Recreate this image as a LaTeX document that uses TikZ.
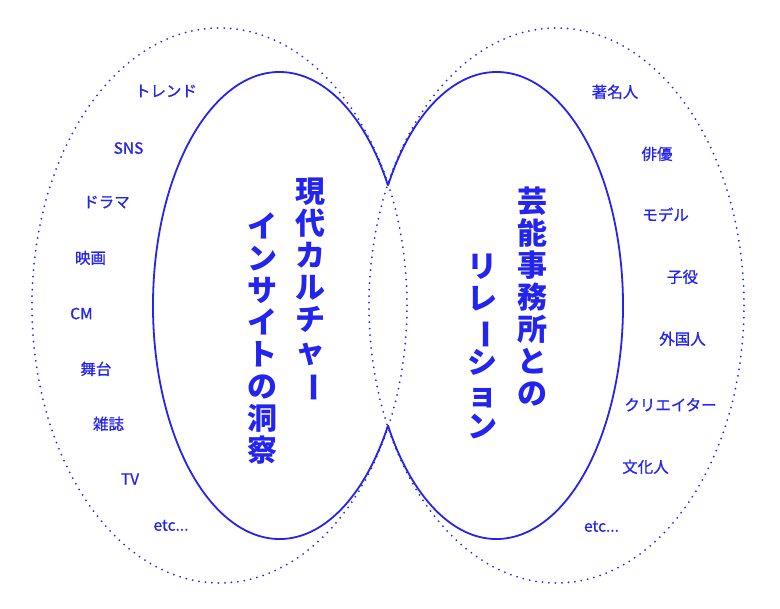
\documentclass[tikz,border=0pt]{standalone}
\usepackage{fontspec}
\usepackage{graphicx}
\usetikzlibrary{calc}
\newfontfamily\jpfont{Noto Sans CJK JP}
\newfontfamily\jptag{Noto Sans CJK JP}[FakeBold=0.9]
\definecolor{Ink}{RGB}{36,36,240}
\newcommand\tatebar{\rotatebox[origin=c]{-90}{ー}}

\begin{document}
\begin{tikzpicture}[x=1pt,y=1pt,
  outer/.style={Ink,line width=2pt,dash pattern=on 0pt off 6.5pt,line cap=round},
  inner/.style={Ink,line width=1.8pt},
  tag/.style={text=Ink,inner sep=0pt,font=\jptag\fontsize{15.5}{16}\selectfont,text height=13.5pt,text depth=2pt},
  tate/.style={text=Ink,inner sep=0pt,font=\jpfont\bfseries\fontsize{30}{32}\selectfont,text height=25pt,text depth=2.2pt}]
  \useasboundingbox (0,0) rectangle (780,609);

  % outer dotted fields
  \draw[outer] (219.5,303.5) ellipse [x radius=187.5,y radius=277.5];
  \draw[outer] (556.5,303.5) ellipse [x radius=187.5,y radius=277.5];

  % inner solid ovals, open in the middle
  \coordinate (cusp-t) at (388,423.5);
  \coordinate (cusp-b) at (388,183.5);
  \draw[inner] (cusp-t) arc[start angle=30.93,end angle=329.07,x radius=126.5,y radius=233.5];
  \draw[inner] (cusp-t) arc[start angle=149.07,end angle=-149.07,x radius=126.5,y radius=233.5];

  % vertical titles
  \foreach \ch [count=\i] in {現,代,カ,ル,チ,ャ,\tatebar}
    \node[tate] (ga\i) at (310,449.5-32*\i) {\ch};
  \foreach \ch [count=\i] in {イ,ン,サ,イ,ト,の,洞,察}
    \node[tate] (gb\i) at (262,415-32*\i) {\ch};
  \foreach \ch [count=\i] in {芸,能,事,務,所,と,の}
    \node[tate] (ra\i) at (532,440-32*\i) {\ch};
  \foreach \ch [count=\i] in {リ,レ,\tatebar,シ,ョ,ン}
    \node[tate] (rb\i) at (482,375-32*\i) {\ch};

  % left field
  \node[tag] (l-trend) at (166,518) {トレンド};
  \node[tag] (l-sns) at (128.5,461) {SNS};
  \node[tag] (l-drama) at (106.5,407) {ドラマ};
  \node[tag] (l-movie) at (90.5,351) {映画};
  \node[tag] (l-cm) at (81.5,295.5) {CM};
  \node[tag] (l-stage) at (96,240) {舞台};
  \node[tag] (l-mag) at (108.5,185) {雑誌};
  \node[tag] (l-tv) at (130,130) {TV};
  \node[tag] (l-etc) at (171,84) {etc...};

  % right field
  \node[tag] (r-celeb) at (615,517) {著名人};
  \node[tag] (r-actor) at (657,455) {俳優};
  \node[tag] (r-model) at (665.5,394) {モデル};
  \node[tag] (r-child) at (682.5,332) {子役};
  \node[tag] (r-foreign) at (682.5,270) {外国人};
  \node[tag] (r-creator) at (670.5,204) {クリエイター};
  \node[tag] (r-culture) at (645.5,142) {文化人};
  \node[tag] (r-etc) at (601.5,83) {etc...};
\end{tikzpicture}
\end{document}
